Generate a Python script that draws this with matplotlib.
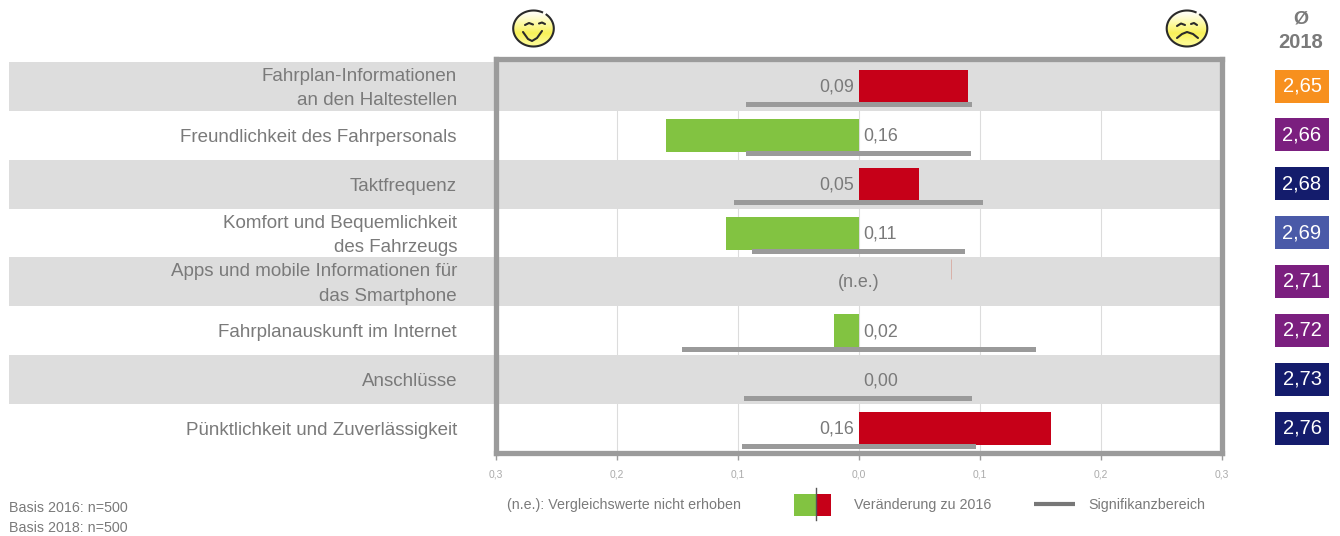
import matplotlib
matplotlib.use("Agg")
import matplotlib.pyplot as plt
import numpy as np
from matplotlib.patches import Ellipse, Rectangle
from matplotlib.transforms import blended_transform_factory

plt.rcParams["font.family"] = ["Liberation Sans", "DejaVu Sans"]

W, H = 1340, 536

labels = [
    "Fahrplan-Informationen\nan den Haltestellen",
    "Freundlichkeit des Fahrpersonals",
    "Taktfrequenz",
    "Komfort und Bequemlichkeit\ndes Fahrzeugs",
    "Apps und mobile Informationen für\ndas Smartphone",
    "Fahrplanauskunft im Internet",
    "Anschlüsse",
    "Pünktlichkeit und Zuverlässigkeit",
]
change = [0.09, -0.159, 0.05, -0.11, np.nan, -0.0206, 0.0, 0.159]
value_text = ["0,09", "0,16", "0,05", "0,11", "(n.e.)", "0,02", "0,00", "0,16"]
sig_low = [-0.093, -0.093, -0.103, -0.088, np.nan, -0.146, -0.0945, -0.0965]
sig_high = [0.094, 0.093, 0.103, 0.088, np.nan, 0.147, 0.094, 0.097]
stray_mark = 0.0765  # thin line in the n.e. row

avg_2018 = ["2,65", "2,66", "2,68", "2,69", "2,71", "2,72", "2,73", "2,76"]
avg_colors = ["#f7901e", "#7b1f7f", "#141c6c", "#4a5aa8",
              "#7b1f7f", "#7b1f7f", "#141c6c", "#141c6c"]
tick_vals = [-0.3, -0.2, -0.1, 0.0, 0.1, 0.2, 0.3]
tick_text = ["0,3", "0,2", "0,1", "0,0", "0,1", "0,2", "0,3"]

GREEN = "#82c341"
RED = "#c60018"
FRAME = "#9b9b9b"
BAND = "#dddddd"
TEXT = "#7a7a7a"
PITCH = 48.86

fig = plt.figure(figsize=(W / 100, H / 100), dpi=100)

# pixel overlay for the decoration around the chart
px = fig.add_axes([0, 0, 1, 1], zorder=0)
px.axis("off")

# main chart, spines are the thick frame
left, right, top, bottom = 495.8, 1221.5, 59, 452.5
ax = fig.add_axes([left / W, 1 - bottom / H, (right - left) / W, (bottom - top) / H], zorder=1)
ax.patch.set_alpha(0)
ax.set_xlim(-0.3, 0.3)
ax.set_ylim((bottom - 62) / PITCH, (top - 62) / PITCH)
for s in ax.spines.values():
    s.set_linewidth(3.8)
    s.set_color(FRAME)

ax.set_axisbelow(True)
ax.grid(axis="x", color="#dcdcdc", linewidth=0.8, zorder=0.5)

rows = np.arange(len(labels)) + 0.5
for i in range(0, len(labels), 2):
    ax.axhspan(i, i + 1, xmin=(9 - left) / (right - left), xmax=1, color=BAND,
               lw=0, clip_on=False, zorder=1)

colors = [GREEN if c < 0 else RED for c in np.nan_to_num(change)]
ax.barh(rows, np.nan_to_num(change), height=33 / PITCH, color=colors, zorder=2)

low = np.array(sig_low)
high = np.array(sig_high)
ax.barh(rows + 18.5 / PITCH, high - low, left=low, height=5 / PITCH, color="#9a9a9a", zorder=3)
ax.vlines(stray_mark, 4 + 2 / PITCH, 4 + 22 / PITCH, color="#d8b0a8", linewidth=0.7, zorder=3)

for y, c, t in zip(rows, change, value_text):
    if np.isnan(c):
        ax.annotate(t, (0, y), xytext=(0, -0.7), textcoords="offset points",
                    ha="center", va="center", fontsize=12.9, color=TEXT, zorder=4)
    elif c > 0:
        ax.annotate(t, (0, y), xytext=(-3.6, -0.7), textcoords="offset points",
                    ha="right", va="center", fontsize=12.9, color=TEXT, zorder=4)
    else:
        ax.annotate(t, (0, y), xytext=(3.6, -0.7), textcoords="offset points",
                    ha="left", va="center", fontsize=12.9, color=TEXT, zorder=4)

label_trans = blended_transform_factory(ax.transAxes, ax.transData)
for y, t in zip(rows, labels):
    ax.annotate(t, ((457 - left) / (right - left), y), xycoords=label_trans,
                xytext=(0, -1.5), textcoords="offset points", ha="right", va="center",
                fontsize=13.5, linespacing=1.55, color=TEXT, annotation_clip=False, zorder=4)

ax.set_yticks([])
ax.set_xticks(tick_vals, tick_text, fontsize=7.4, color="#ababab")
ax.tick_params(axis="x", length=5, width=1, color=FRAME, pad=7.5)

# average badges on the right
for i, (t, c) in enumerate(zip(avg_2018, avg_colors)):
    px.add_patch(Rectangle((1275, 69.5 + PITCH * i), 54, 33, color=c, lw=0))
    px.text(1302, 86 + PITCH * i, t, color="white", fontsize=14.5, ha="center", va="center")
px.text(1301, 19, "Ø", color=TEXT, fontsize=14, fontweight="bold", ha="center", va="center")
px.text(1301, 43, "2018", color=TEXT, fontsize=14.5, fontweight="bold", ha="center", va="center")

# smileys
gradient = np.array([[0.0], [0.3], [0.65], [1.0]])
yellow = matplotlib.colors.LinearSegmentedColormap.from_list(
    "y", ["#fffef0", "#fdfaa0", "#f8f158", "#fcf98e"])
for cx, cy in [(533.5, 28.5), (1187, 28.5)]:
    im = px.imshow(gradient, extent=(cx - 21, cx + 21, cy + 19, cy - 19), cmap=yellow,
                   aspect="auto", interpolation="bilinear", zorder=2)
    im.set_clip_path(Ellipse((cx, cy), 41, 36, transform=px.transData))
    t = np.radians(np.arange(65, 411, 5))
    px.plot(cx + 20.3 * np.cos(t), cy - 18 * np.sin(t), color="#2a2a2a", lw=1.5, zorder=3)
px.set_xlim(0, W)
px.set_ylim(H, 0)
face_lines = [
    ([525, 529, 533], [25, 23, 24.5]), ([539, 542, 545], [23.5, 22.5, 24]),
    ([523, 528, 532, 537, 542], [32, 39, 41, 38, 31]),
    ([1177, 1181, 1185], [26, 23.5, 25]), ([1191, 1194, 1197], [24, 23, 25]),
    ([1177, 1182, 1187, 1193, 1198], [38, 34, 32, 34, 38]),
]
for xs, ys in face_lines:
    px.plot(xs, ys, color="#2a2a2a", lw=1.5, solid_capstyle="round", zorder=4)

# legend row
px.text(507, 505, "(n.e.): Vergleichswerte nicht erhoben", fontsize=10.3, color=TEXT, va="center")
px.add_patch(Rectangle((794, 494), 22, 22, color=GREEN, lw=0))
px.add_patch(Rectangle((816, 494), 15, 22, color=RED, lw=0))
px.plot([816, 816], [488, 520], color="#555555", lw=1)
px.text(854, 505, "Veränderung zu 2016", fontsize=10.3, color=TEXT, va="center")
px.plot([1034, 1075], [504, 504], color="#777777", lw=3, solid_capstyle="butt")
px.text(1088, 505, "Signifikanzbereich", fontsize=10.3, color=TEXT, va="center")

px.text(9, 507.5, "Basis 2016: n=500", fontsize=10.3, color=TEXT, va="center")
px.text(9, 527.5, "Basis 2018: n=500", fontsize=10.3, color=TEXT, va="center")

fig.savefig("out.png", dpi=100)
